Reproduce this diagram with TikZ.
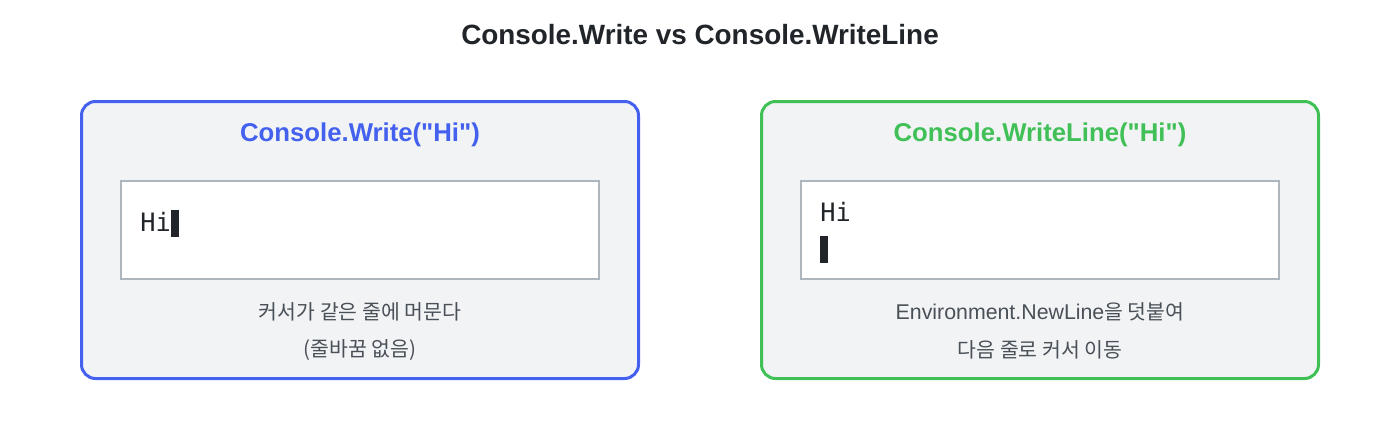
\documentclass[tikz,border=0pt]{standalone}
\usepackage{fontspec}
\setmainfont{Liberation Sans}
\setmonofont{DejaVu Sans Mono}
\newfontfamily\krfont[Scale=0.96]{Noto Sans CJK KR}
\usetikzlibrary{positioning}
\definecolor{writeblue}{HTML}{4361EE}
\definecolor{linegreen}{HTML}{40C057}
\definecolor{panelgray}{HTML}{F1F3F5}
\definecolor{screenedge}{HTML}{ADB5BD}
\definecolor{inkdark}{HTML}{212529}
\definecolor{notegray}{HTML}{495057}
\tikzset{
  panel/.style={draw, line width=2.25pt, fill=panelgray, rounded corners=10.5pt,
    minimum width=417.75pt, minimum height=207.75pt, inner sep=0pt},
  screen/.style={draw=screenedge, line width=1.5pt, fill=white,
    minimum width=358.5pt, minimum height=73.5pt, inner sep=0pt},
  cursor/.style={fill=inkdark, minimum width=6pt, minimum height=20pt, inner sep=0pt},
}

\begin{document}
\begin{tikzpicture}[x=0.75pt, y=-0.75pt, inner sep=0pt,
   heading/.style={font=\bfseries\fontsize{20.9}{25}\selectfont, text=inkdark},
   boxtitle/.style={font=\bfseries\fontsize{19.3}{23}\selectfont},
   code/.style={font=\ttfamily\fontsize{19}{23}\selectfont, text=inkdark},
   note/.style={font=\fontsize{16}{19}\selectfont, text=notegray}
   ]
   \useasboundingbox (0,0) rectangle (1400,440);

   \path (700,35) node[heading] (T) {Console.Write vs Console.WriteLine};

   % Console.Write
   \path (360,240) node[panel, draw=writeblue] (WP) {}
   (360,230) node[screen] (WS) {};
   \path (360,135) node[boxtitle, text=writeblue] (WT) {Console.Write(\textquotedbl Hi\textquotedbl)};
   \path (140,231) node[code, anchor=base west] (WH) {Hi};
   \path (171,210) node[cursor, anchor=north west] (WC) {};
   \path (360,312) node[note] (WN1) {\krfont 커서가 같은 줄에 머문다}
   (360,350) node[note] (WN2) {\krfont (줄바꿈 없음)};

   % Console.WriteLine
   \path (1040,240) node[panel, draw=linegreen] (LP) {}
   (1040,230) node[screen] (LS) {};
   \path (1040,135) node[boxtitle, text=linegreen] (LT) {Console.WriteLine(\textquotedbl Hi\textquotedbl)};
   \path (820,221) node[code, anchor=base west] (LH) {Hi};
   \path (820,236) node[cursor, anchor=north west] (LC) {};
   \path (1040,312) node[note] (LN1) {Environment.NewLine{\krfont 을 덧붙여}}
   (1040,350) node[note] (LN2) {\krfont 다음 줄로 커서 이동};

\end{tikzpicture}
\end{document}
